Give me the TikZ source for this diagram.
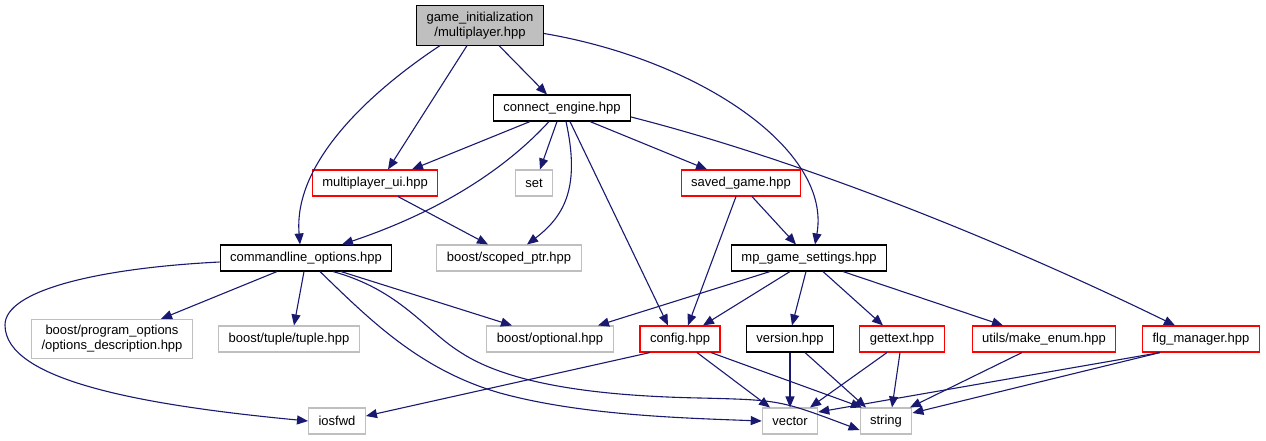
\documentclass[tikz,border=0pt]{standalone}
\usepackage{fontspec}
\setmainfont{Liberation Sans}
\usetikzlibrary{arrows.meta}
\definecolor{edgeblue}{HTML}{191970}
\definecolor{boxgrey}{HTML}{BFBFBF}
\definecolor{boxred}{HTML}{FF0000}

\begin{document}
\begin{tikzpicture}[
        x=1pt, y=-1pt,
        every node/.style={
            rectangle,
            draw=black,
            line width=1.1pt,
            text=black,
            align=center,
            inner xsep=10pt,
            inner ysep=6pt,
            minimum height=26pt,
            font=\fontsize{13}{15}\selectfont
        },
        arrow/.style={
            -{Triangle[length=11pt,width=9pt]},
            line width=1.1pt,
            color=edgeblue
        },
        current/.style={
            fill=boxgrey
        },
        missing/.style={
            draw=boxred
        },
        external/.style={
            draw=boxgrey
        }
    ]
        \useasboundingbox (0,0) rectangle (1266,440);

        % top of the graph
        \node[current] (root) at (480,25.5) {game\_initialization\\/multiplayer.hpp};
        \node (ce) at (562,108) {connect\_engine.hpp};

        % third row
        \node[missing] (mpui) at (375,183) {multiplayer\_ui.hpp};
        \node[external] (set) at (534,183) {set};
        \node[missing] (saved) at (741,183) {saved\_game.hpp};

        % fourth row
        \node (clo) at (306,258) {commandline\_options.hpp};
        \node[external] (scoped) at (509,258) {boost/scoped\_ptr.hpp};
        \node (mpgs) at (809,258) {mp\_game\_settings.hpp};

        % fifth row
        \node[external] (po) at (112,339) {boost/program\_options\\/options\_description.hpp};
        \node[external] (tuple) at (289,339) {boost/tuple/tuple.hpp};
        \node[external] (opt) at (550,339) {boost/optional.hpp};
        \node[missing] (config) at (680,339) {config.hpp};
        \node (version) at (790,339) {version.hpp};
        \node[missing] (gettext) at (902,339) {gettext.hpp};
        \node[missing] (menum) at (1044,339) {utils/make\_enum.hpp};
        \node[missing] (flg) at (1201,339) {flg\_manager.hpp};

        % bottom row
        \node[external] (iosfwd) at (337,421) {iosfwd};
        \node[external] (vector) at (790,421) {vector};
        \node[external] (string) at (886,421) {string};

        % from the top file
        \draw[arrow] ([xshift=19pt]root.south) -- ([xshift=-15pt]ce.north);
        \draw[arrow] ([xshift=-13pt]root.south) -- ([xshift=13pt]mpui.north);
        \draw[arrow] ([xshift=-40pt]root.south) .. controls (400,72) and (292,150) .. ([xshift=-6pt]clo.north);
        \draw[arrow] ([yshift=-8pt]root.east) .. controls (700,60) and (832,150) .. ([xshift=6pt]mpgs.north);

        % from connect_engine
        \draw[arrow] ([xshift=-32pt]ce.south) -- ([xshift=37pt]mpui.north);
        \draw[arrow] ([xshift=-13pt]ce.south) .. controls (500,175) and (430,215) .. ([xshift=36pt]clo.north);
        \draw[arrow] ([xshift=-5pt]ce.south) -- ([xshift=6pt]set.north);
        \draw[arrow] ([xshift=4pt]ce.south) .. controls (580,185) and (566,215) .. ([xshift=18pt]scoped.north);
        \draw[arrow] ([xshift=8pt]ce.south) -- ([xshift=-12pt]config.north);
        \draw[arrow] ([xshift=28pt]ce.south) -- ([xshift=-34pt]saved.north);
        \draw[arrow] ([yshift=-9pt]ce.east) .. controls (800,160) and (1000,240) .. ([xshift=-26pt]flg.north);

        % third row
        \draw[arrow] ([xshift=23pt]mpui.south) -- ([xshift=-21pt]scoped.north);
        \draw[arrow] ([xshift=-5pt]saved.south) -- ([xshift=8pt]config.north);
        \draw[arrow] ([xshift=11pt]saved.south) -- ([xshift=-13pt]mpgs.north);

        % from commandline_options
        \draw[arrow] ([xshift=-29pt]clo.south) -- ([xshift=49pt]po.north);
        \draw[arrow] ([xshift=-2pt]clo.south) -- ([xshift=5pt]tuple.north);
        \draw[arrow] ([xshift=35pt]clo.south) -- ([xshift=-38pt]opt.north);
        \draw[arrow] ([yshift=-4pt]clo.west) .. controls (100,268) and (5,290) .. (5,325)
            .. controls (5,380) and (140,405) .. (iosfwd.west);
        \draw[arrow] ([xshift=14pt]clo.south) .. controls (370,320) and (420,370) .. (500,393)
            .. controls (580,415) and (680,418) .. (vector.west);
        \draw[arrow] ([xshift=27pt]clo.south) .. controls (400,290) and (425,330) .. (460,352)
            .. controls (510,385) and (600,396) .. (700,398)
            .. controls (780,400) .. ([yshift=-9pt]string.west);

        % from mp_game_settings
        \draw[arrow] ([xshift=-39pt]mpgs.south) -- ([xshift=48pt]opt.north);
        \draw[arrow] ([xshift=-19pt]mpgs.south) -- ([xshift=23pt]config.north);
        \draw[arrow] ([xshift=-3pt]mpgs.south) -- ([xshift=2pt]version.north);
        \draw[arrow] ([xshift=14pt]mpgs.south) -- ([xshift=-19pt]gettext.north);
        \draw[arrow] ([xshift=34pt]mpgs.south) -- ([xshift=-41pt]menum.north);

        % fifth row to the bottom
        \draw[arrow] ([xshift=-30pt]config.south) -- ([yshift=5pt]iosfwd.east);
        \draw[arrow] ([xshift=17pt]config.south) -- ([xshift=-20pt]vector.north);
        \draw[arrow] ([xshift=31pt]config.south) -- ([xshift=-24pt]string.north);
        \draw[arrow] (version.south) -- (vector.north);
        \draw[arrow] ([xshift=15pt]version.south) -- ([xshift=-20pt]string.north);
        \draw[arrow] ([xshift=-15pt]gettext.south) -- ([xshift=20pt]vector.north);
        \draw[arrow] ([xshift=-2pt]gettext.south) -- ([xshift=6pt]string.north);
        \draw[arrow] ([xshift=-22pt]menum.south) -- ([xshift=24pt]string.north);
        \draw[arrow] ([xshift=-41pt]flg.south) -- ([yshift=9pt]vector.east);
        \draw[arrow] ([xshift=-41pt]flg.south) -- ([yshift=8pt]string.east);
    \end{tikzpicture}
\end{document}
